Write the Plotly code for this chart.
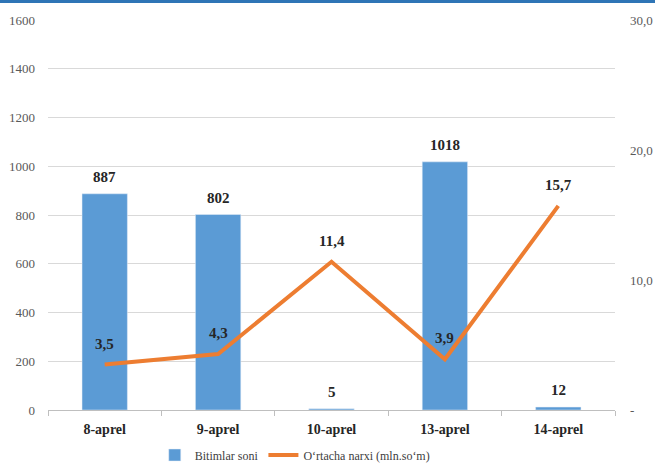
import plotly.graph_objects as go

categories = ["8-aprel", "9-aprel", "10-aprel", "13-aprel", "14-aprel"]
bitimlar = [887, 802, 5, 1018, 12]
narx = [3.5, 4.3, 11.4, 3.9, 15.7]
narx_labels = ["3,5", "4,3", "11,4", "3,9", "15,7"]
left_ticks = [0, 200, 400, 600, 800, 1000, 1200, 1400, 1600]
right_tickvals = [0, 10, 20, 30]
right_ticktext = ["-", "10,0", "20,0", "30,0"]

FONT = "Liberation Serif"
LABEL_FONT = dict(family=FONT, size=15, color="#262626", weight="bold")

W, H = 655, 468
ML, MR, MT, MB = 48, 40, 20, 58
PLOT_H = H - MT - MB


def py(pix):
    """pixel row -> paper y"""
    return (H - MB - pix) / PLOT_H


fig = go.Figure()
fig.add_trace(go.Bar(
    x=categories, y=bitimlar, name="Bitimlar soni",
    marker=dict(color="#5B9BD5"),
    width=0.4,
))
fig.add_trace(go.Scatter(
    x=categories, y=narx, name="O‘rtacha narxi (mln.so‘m)",
    mode="lines", yaxis="y2",
    line=dict(color="#ED7D31", width=4),
))

annotations = []
for c, v in zip(categories, bitimlar):
    annotations.append(dict(x=c, y=v, xref="x", yref="y", text=str(v),
                            showarrow=False, yshift=17, font=LABEL_FONT))
for c, v, t in zip(categories, narx, narx_labels):
    annotations.append(dict(x=c, y=v, xref="x", yref="y2", text=t,
                            showarrow=False, yshift=21, font=LABEL_FONT))

fig.update_layout(
    width=W, height=H,
    margin=dict(l=ML, r=MR, t=MT, b=MB, autoexpand=False),
    paper_bgcolor="white", plot_bgcolor="white",
    font=dict(family=FONT, color="#595959"),
    showlegend=True,
    legend=dict(orientation="h", xref="container", x=0.45, xanchor="center",
                yref="container", y=1 - 455 / H, yanchor="middle",
                font=dict(family=FONT, size=12, color="#404040"),
                tracegroupgap=0, bgcolor="rgba(0,0,0,0)"),
    xaxis=dict(
        type="category", tickson="boundaries", ticks="outside", ticklen=5,
        tickcolor="#BFBFBF", showline=True, linecolor="#BFBFBF", linewidth=1,
        tickfont=dict(family=FONT, size=14, color="#262626", weight="bold"),
        showgrid=False, automargin=False, ticklabelstandoff=6,
    ),
    yaxis=dict(
        range=[0, 1600], tickvals=left_ticks, showgrid=True, gridcolor="#D9D9D9",
        gridwidth=1, zeroline=False, ticks="", ticklabelstandoff=12,
        tickfont=dict(family=FONT, size=13, color="#595959"), automargin=False,
    ),
    yaxis2=dict(
        range=[0, 30], overlaying="y", side="right", tickvals=right_tickvals,
        ticktext=right_ticktext, showgrid=False, zeroline=False, ticks="",
        ticklabelstandoff=14, automargin=False,
        tickfont=dict(family=FONT, size=13, color="#595959"),
    ),
    annotations=annotations,
    shapes=[dict(type="line", xref="paper", yref="paper",
                 x0=-0.1, x1=1.1, y0=py(1.5), y1=py(1.5),
                 line=dict(color="#2E75B6", width=3))],
)

fig.write_html(
    "out.html", config={"displayModeBar": False},
    post_script=("document.documentElement.style.margin='0';"
                 "document.body.style.margin='0';"
                 "document.body.style.overflow='hidden';"))
